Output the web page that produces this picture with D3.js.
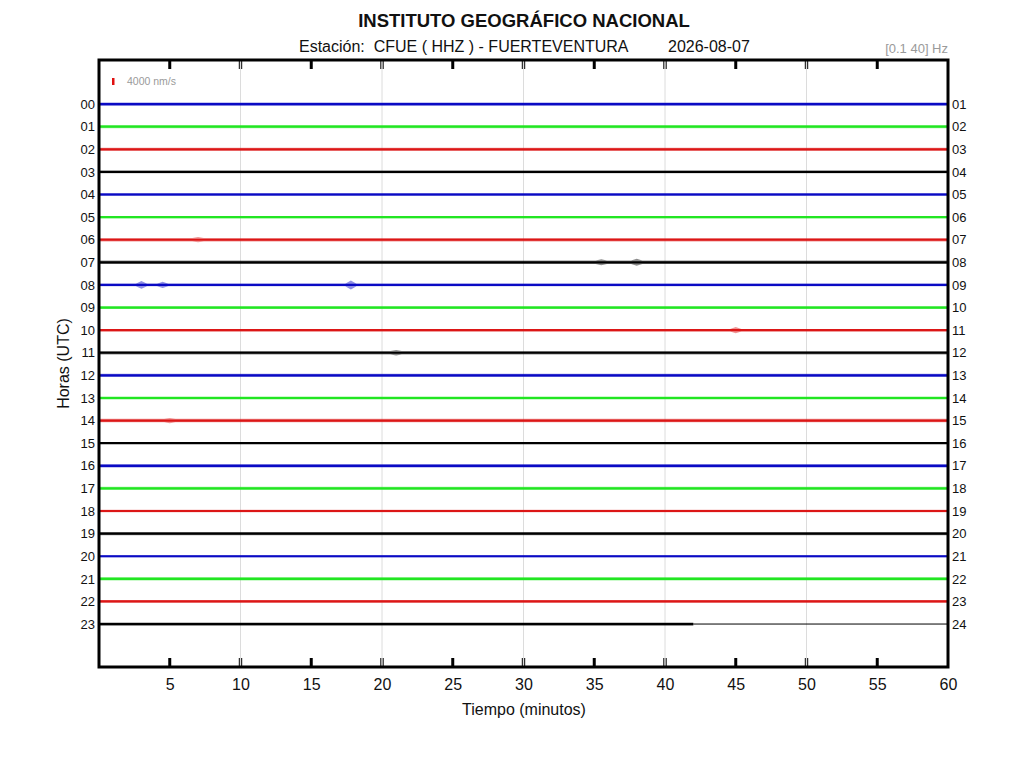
<!DOCTYPE html>
<html>
<head>
  <meta charset="utf-8">
  <script src="https://cdn.jsdelivr.net/npm/d3@7"></script>
  <style>
    body { margin: 0; background: #fff; }
    text { font-family: "Liberation Sans", Arial, sans-serif; fill: #111; }
    text.title { font-size: 18.5px; font-weight: 700; }
    text.subTitle { font-size: 16px; white-space: pre; }
    text.filter { font-size: 13px; fill: #9a9a9a; }
    text.scaleLabel { font-size: 10.5px; fill: #9a9a9a; }
    text.axisTitle { font-size: 16px; }
    .xAxis .tick text { font-size: 16px; fill: #111; }
    .yAxis .tick text { font-size: 13px; fill: #111; }
    path.domain { display: none; }
  </style>
</head>
<body>
  <svg width="1024" height="768"></svg>
  <script>
    // data
    const hours = d3.range(0, 24);
    const hourLabelsLeft = hours.map(h => d3.format("02d")(h));
    const hourLabelsRight = hours.map(h => d3.format("02d")(h + 1));
    const minuteTicks = [5, 10, 15, 20, 25, 30, 35, 40, 45, 50, 55, 60];
    const gridMinutes = [10, 20, 30, 40, 50];
    const traceColors = ["#0a0ac4", "#22e622", "#dc1616", "#000000"];
    // typical noise half-amplitude of each hour, nm/s
    const noiseLevel = [900, 900, 900, 700, 900, 600, 1000, 1000, 700, 900, 700, 1000,
                        900, 800, 1000, 500, 1000, 900, 700, 900, 600, 1000, 800, 900];
    // minute where each hour's record ends
    const recordEnd = [60, 60, 60, 60, 60, 60, 60, 60, 60, 60, 60, 60,
                       60, 60, 60, 60, 60, 60, 60, 60, 60, 60, 60, 42];
    // small bursts: hour, minute, peak nm/s
    const bursts = [
      { hour: 6, minute: 7, amp: 1500 },
      { hour: 7, minute: 35.5, amp: 1700 },
      { hour: 7, minute: 38, amp: 2000 },
      { hour: 8, minute: 3, amp: 2200 },
      { hour: 8, minute: 4.5, amp: 1800 },
      { hour: 8, minute: 17.8, amp: 2600 },
      { hour: 10, minute: 45, amp: 1800 },
      { hour: 11, minute: 21, amp: 1600 },
      { hour: 14, minute: 5, amp: 1500 }
    ];
    const scaleBar = 4000;

    const svg = d3.select("svg");
    const margin = { top: 60, right: 76, bottom: 101, left: 99 };
    const width = 1024, height = 768;

    const x = d3.scaleLinear().domain([0, 60]).range([margin.left, width - margin.right]);
    const y = d3.scaleLinear().domain([-1.95, 24.9]).range([margin.top, height - margin.bottom]);
    const amp = d3.scaleLinear().domain([0, 4000]).range([0, 7]);

    // titles
    svg.append("text").attr("class", "title")
      .attr("x", 524).attr("y", 27).attr("text-anchor", "middle")
      .text("INSTITUTO GEOGRÁFICO NACIONAL");
    svg.append("text").attr("class", "subTitle")
      .attr("x", 299).attr("y", 52)
      .text("Estación:  CFUE ( HHZ ) - FUERTEVENTURA");
    svg.append("text").attr("class", "subTitle")
      .attr("x", 668).attr("y", 52)
      .text("2026-08-07");
    svg.append("text").attr("class", "filter")
      .attr("x", x(60)).attr("y", 53).attr("text-anchor", "end")
      .text("[0.1 40] Hz");

    // grid lines
    svg.append("g").selectAll("line")
      .data(gridMinutes).join("line")
      .attr("x1", d => x(d)).attr("x2", d => x(d))
      .attr("y1", y.range()[0]).attr("y2", y.range()[1])
      .attr("stroke", "#dcdcdc").attr("stroke-width", 1);

    // traces
    function envelope(h) {
      const base = noiseLevel[h];
      const end = recordEnd[h];
      const pts = [[0, base]];
      bursts.filter(b => b.hour === h).sort((a, b) => a.minute - b.minute).forEach(b => {
        pts.push([b.minute - 0.4, base], [b.minute, b.amp], [b.minute + 0.4, base]);
      });
      pts.push([end, base]);
      return pts;
    }
    const band = d3.area()
      .x(d => x(d[0]))
      .y0(d => -amp(d[1]))
      .y1(d => amp(d[1]));

    const traces = svg.append("g").selectAll("g")
      .data(hours).join("g")
      .attr("transform", h => `translate(0,${y(h)})`);
    traces.append("path")
      .attr("d", h => band(envelope(h)))
      .attr("fill", h => traceColors[h % 4])
      .attr("opacity", 0.45);
    traces.append("line")
      .attr("x1", x(0)).attr("x2", h => x(recordEnd[h]))
      .attr("stroke", h => traceColors[h % 4])
      .attr("stroke-width", 2.2);
    // empty remainder of an unfinished hour
    traces.filter(h => recordEnd[h] < 60).append("line")
      .attr("x1", h => x(recordEnd[h])).attr("x2", x(60))
      .attr("stroke", "#000").attr("stroke-width", 1);

    // amplitude scale bar
    svg.append("rect")
      .attr("x", 112).attr("y", 78)
      .attr("width", 2.5).attr("height", amp(scaleBar))
      .attr("fill", "#e01010");
    svg.append("text").attr("class", "scaleLabel")
      .attr("x", 127).attr("y", 85)
      .text(d3.format("d")(scaleBar) + " nm/s");

    // frame
    svg.append("rect")
      .attr("x", x(0)).attr("y", y.range()[0])
      .attr("width", x(60) - x(0)).attr("height", y.range()[1] - y.range()[0])
      .attr("fill", "none").attr("stroke", "#000").attr("stroke-width", 3);

    // tick marks at top and bottom (double thin lines on grid minutes)
    const tickLen = 9;
    [y.range()[0], y.range()[1]].forEach((edge, i) => {
      const dir = i === 0 ? 1 : -1;
      const g = svg.append("g");
      minuteTicks.filter(m => m < 60).forEach(m => {
        const offs = gridMinutes.includes(m) ? [-1.2, 1.2] : [0];
        offs.forEach(o => {
          g.append("line")
            .attr("x1", x(m) + o).attr("x2", x(m) + o)
            .attr("y1", edge).attr("y2", edge + dir * tickLen)
            .attr("stroke", "#000")
            .attr("stroke-width", offs.length > 1 ? 1 : 3);
        });
      });
    });

    // axes
    svg.append("g").attr("class", "axis xAxis")
      .attr("transform", `translate(0,${y.range()[1]})`)
      .call(d3.axisBottom(x).tickValues(minuteTicks).tickSize(0).tickPadding(12));

    svg.append("g").attr("class", "axis yAxis")
      .attr("transform", `translate(${x(0)},0)`)
      .call(d3.axisLeft(y).tickValues(hours).tickSize(0).tickPadding(4)
        .tickFormat((d, i) => hourLabelsLeft[i]));

    svg.append("g").attr("class", "axis yAxis")
      .attr("transform", `translate(${x(60)},0)`)
      .call(d3.axisRight(y).tickValues(hours).tickSize(0).tickPadding(4)
        .tickFormat((d, i) => hourLabelsRight[i]));

    svg.append("text").attr("class", "axisTitle")
      .attr("x", 524).attr("y", 715).attr("text-anchor", "middle")
      .text("Tiempo (minutos)");
    svg.append("text").attr("class", "axisTitle")
      .attr("transform", `translate(69,${(y.range()[0] + y.range()[1]) / 2}) rotate(-90)`)
      .attr("text-anchor", "middle")
      .text("Horas (UTC)");
  </script>
</body>
</html>
